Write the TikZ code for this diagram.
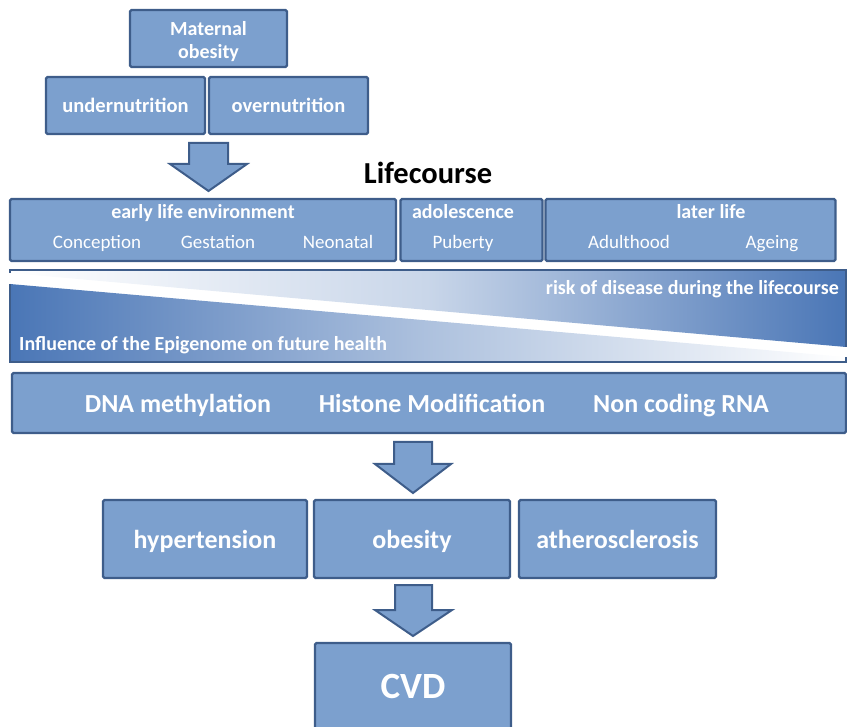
\documentclass[tikz,border=0pt]{standalone}
\usepackage{fontspec}
\setmainfont{Carlito}
\definecolor{boxfill}{RGB}{124,160,206}
\definecolor{boxline}{RGB}{62,93,138}
\definecolor{darkgrad}{RGB}{74,118,182}
\begin{document}
\begin{tikzpicture}[x=1pt,y=-1pt,
  box/.style={draw=boxline, line width=2.2pt, fill=boxfill, rounded corners=1.5pt, inner sep=0pt},
  lbl/.style={text=white, inner sep=0pt, anchor=base},
  blockarrow/.style={draw=boxline, line width=2pt, fill=boxfill, line join=miter},
  sub/.style={lbl, font=\fontsize{19}{21}\selectfont},
  hdr/.style={lbl, font=\bfseries\fontsize{20}{22}\selectfont},
  big/.style={lbl, font=\bfseries\fontsize{26}{28}\selectfont}]
\useasboundingbox (0,0) rectangle (847,727);
% top boxes
\node[box, minimum width=157, minimum height=57] (mat) at (208.5,38.5) {};
\node[hdr] (mat1) at (208.5,35.5) {Maternal};
\node[hdr] (mat2) at (208.5,58.5) {obesity};
\node[box, minimum width=159, minimum height=57] (under) at (125.5,105.5) {};
\node[box, minimum width=159, minimum height=57] (over) at (288.5,105.5) {};
\node[hdr, font=\bfseries\fontsize{20.5}{22}\selectfont] (undert) at (125.5,112.5) {undernutrition};
\node[hdr, font=\bfseries\fontsize{20.5}{22}\selectfont] (overt) at (288.5,112.5) {overnutrition};
% arrow 1
\draw[blockarrow] (189,143) -- (228,143) -- (228,164) -- (247,164) -- (208.5,191) -- (170,164) -- (189,164) -- cycle;
\node[inner sep=0pt, anchor=base, font=\bfseries\fontsize{30.5}{32}\selectfont] (life) at (428,183.5) {Lifecourse};
% lifecourse boxes
\node[box, minimum width=386, minimum height=62] (early) at (203,230) {};
\node[box, minimum width=142, minimum height=62] (adol) at (471.5,230) {};
\node[box, minimum width=290, minimum height=62] (later) at (690.5,230) {};
\node[hdr] (t1) at (203,219) {early life environment};
\node[sub] (t2) at (97,249) {Conception};
\node[sub] (t3) at (218,249) {Gestation};
\node[sub] (t4) at (338,249) {Neonatal};
\node[hdr] (t5) at (463,219) {adolescence};
\node[sub] (t6) at (463,249) {Puberty};
\node[hdr] (t7) at (711,219) {later life};
\node[sub] (t8) at (629,249) {Adulthood};
\node[sub] (t9) at (772,249) {Ageing};
% gradient band
\shade[left color=white, right color=darkgrad, middle color=white!70!darkgrad] (10,270) -- (846,270) -- (846,347) -- (10,273) -- cycle;
\shade[left color=darkgrad, right color=white, middle color=white!55!darkgrad] (10,284) -- (846,357) -- (846,362) -- (10,362) -- cycle;
\draw[boxline, line width=1.2pt] (10,273) -- (10,270) -- (846,270) -- (846,347);
\draw[boxline, line width=1.2pt] (10,284) -- (10,362) -- (846,362) -- (846,357);
\node[hdr, anchor=base east] (risk) at (839,294.5) {risk of disease during the lifecourse};
\node[hdr, anchor=base west] (infl) at (19,350.5) {Influence of the Epigenome on future health};
% epigenetic box
\node[box, minimum width=834, minimum height=60] (epi) at (429,403) {};
\node[big] (dna) at (178,412.5) {DNA methylation};
\node[big] (hist) at (432,412.5) {Histone Modification};
\node[big] (ncr) at (681,412.5) {Non coding RNA};
% arrow 2
\draw[blockarrow] (394,442) -- (432,442) -- (432,464) -- (451,464) -- (413,493) -- (375,464) -- (394,464) -- cycle;
% disease boxes
\node[box, minimum width=204, minimum height=78] (hyp) at (205,539) {};
\node[box, minimum width=196, minimum height=78] (obe) at (412,539) {};
\node[box, minimum width=197, minimum height=78] (ath) at (617.5,539) {};
\node[big] (hypt) at (205,548) {hypertension};
\node[big] (obet) at (412,548) {obesity};
\node[big] (atht) at (617.5,548) {atherosclerosis};
% arrow 3
\draw[blockarrow] (395,585) -- (432,585) -- (432,610) -- (452,610) -- (413,636) -- (375,610) -- (395,610) -- cycle;
% CVD
\node[box, minimum width=196, minimum height=90] (cvd) at (413,688) {};
\node[lbl, font=\bfseries\fontsize{37}{40}\selectfont] (cvdt) at (413,698) {CVD};
\end{tikzpicture}
\end{document}
